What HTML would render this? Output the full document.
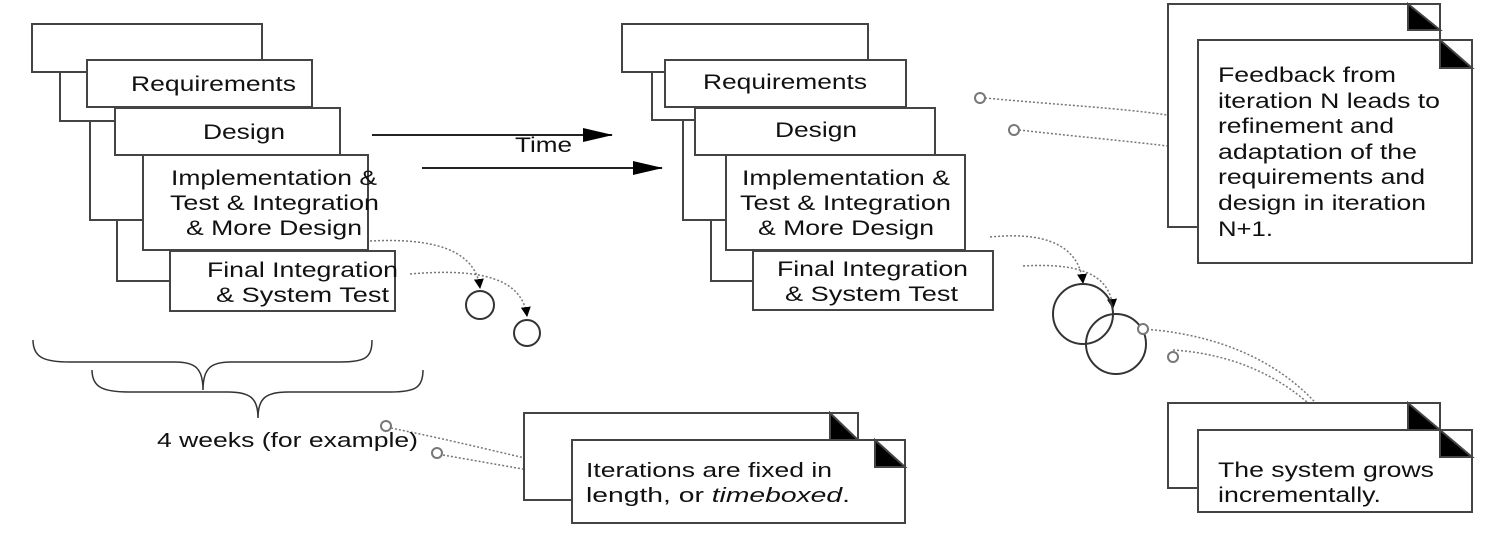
<!DOCTYPE html>
<html><head><meta charset="utf-8"><style>
html,body{margin:0;padding:0;background:#fff;}
svg{display:block;font-family:"Liberation Sans",sans-serif;}
</style></head><body>
<svg width="1494" height="536" viewBox="0 0 1494 536" xmlns="http://www.w3.org/2000/svg">
<defs>
<marker id="ah" markerWidth="10" markerHeight="10" refX="9" refY="5" orient="auto" markerUnits="userSpaceOnUse"><path d="M0,0 L10,5 L0,10 z" fill="#000"/></marker>
<marker id="big" markerWidth="30" markerHeight="14" refX="29" refY="7" orient="auto" markerUnits="userSpaceOnUse"><path d="M0,0 L30,7 L0,14 z" fill="#000"/></marker>
</defs>
<g fill="#fff" stroke="#444" stroke-width="2">
<polyline fill="none" points="60,72 60,121 115,121"/>
<polyline fill="none" points="90,121 90,220 143,220"/>
<polyline fill="none" points="117,220 117,281 170,281"/>
<rect x="32" y="24" width="230" height="48"/>
<rect x="87" y="60" width="225" height="47"/>
<rect x="115" y="108" width="225" height="47"/>
<rect x="143" y="155" width="225" height="95"/>
<rect x="170" y="251" width="225" height="60"/>
<polyline fill="none" points="652,72 652,120 695,120"/>
<polyline fill="none" points="683,120 683,220 726,220"/>
<polyline fill="none" points="711,220 711,281 753,281"/>
<rect x="622" y="24" width="246" height="48"/>
<rect x="665" y="60" width="241" height="47"/>
<rect x="695" y="108" width="240" height="47"/>
<rect x="726" y="155" width="239" height="95"/>
<rect x="753" y="251" width="240" height="59"/>
</g>
<g font-size="21" fill="#111" lengthAdjust="spacingAndGlyphs">
<text x="131" y="91" textLength="165" lengthAdjust="spacingAndGlyphs">Requirements</text>
<text x="203" y="139" textLength="82" lengthAdjust="spacingAndGlyphs">Design</text>
<text x="171" y="185" textLength="206" lengthAdjust="spacingAndGlyphs">Implementation &amp;</text>
<text x="170" y="210" textLength="209" lengthAdjust="spacingAndGlyphs">Test &amp; Integration</text>
<text x="186" y="235" textLength="176" lengthAdjust="spacingAndGlyphs">&amp; More Design</text>
<text x="207" y="277" textLength="191" lengthAdjust="spacingAndGlyphs">Final Integration</text>
<text x="216" y="302" textLength="173" lengthAdjust="spacingAndGlyphs">&amp; System Test</text>
<text x="703" y="89" textLength="164" lengthAdjust="spacingAndGlyphs">Requirements</text>
<text x="775" y="137" textLength="82" lengthAdjust="spacingAndGlyphs">Design</text>
<text x="742" y="185" textLength="208" lengthAdjust="spacingAndGlyphs">Implementation &amp;</text>
<text x="740" y="210" textLength="211" lengthAdjust="spacingAndGlyphs">Test &amp; Integration</text>
<text x="758" y="235" textLength="176" lengthAdjust="spacingAndGlyphs">&amp; More Design</text>
<text x="777" y="276" textLength="191" lengthAdjust="spacingAndGlyphs">Final Integration</text>
<text x="785" y="301" textLength="173" lengthAdjust="spacingAndGlyphs">&amp; System Test</text>
<text x="515" y="152" textLength="57" lengthAdjust="spacingAndGlyphs">Time</text>
</g>
<line x1="372" y1="135" x2="612" y2="135" stroke="#222" stroke-width="2" marker-end="url(#big)"/>
<line x1="422" y1="168" x2="662" y2="168" stroke="#222" stroke-width="2" marker-end="url(#big)"/>
<g fill="none" stroke="#777" stroke-width="1.5" stroke-dasharray="2,2">
<path d="M370,241 C430,238 475,248 480,288" marker-end="url(#ah)"/>
<path d="M410,274 C480,268 522,278 527,316" marker-end="url(#ah)"/>
<path d="M990,237 C1060,230 1080,255 1083,283" marker-end="url(#ah)"/>
<path d="M1023,266 C1090,262 1110,280 1113,308" marker-end="url(#ah)"/>
<path d="M985,98 C1060,105 1120,108 1167,115"/>
<path d="M1019,130 C1090,138 1150,143 1198,150"/>
<path d="M1143,329 C1230,335 1300,370 1340,435"/>
<path d="M1173,350 C1250,355 1300,390 1330,425"/>
<path d="M391,428 C450,440 490,450 525,458"/>
<path d="M443,455 C500,465 540,472 572,478"/>
</g>
<g fill="none" stroke="#333" stroke-width="2">
<circle cx="480" cy="305" r="14"/>
<circle cx="527" cy="333" r="13"/>
<circle cx="1083" cy="314" r="30"/>
<circle cx="1116" cy="344" r="30"/>
</g>
<g fill="#fff" stroke="#777" stroke-width="2">
<circle cx="980" cy="98" r="5"/>
<circle cx="1014" cy="130" r="5"/>
<circle cx="1143" cy="329" r="5"/>
<circle cx="1173" cy="357" r="5"/>
<circle cx="386" cy="426" r="5"/>
<circle cx="437" cy="453" r="5"/>
</g>
<g fill="none" stroke="#333" stroke-width="1.5">
<path d="M33,340 C33,358 45,362 70,362 L175,362 C195,362 203,368 203,390 C203,368 211,362 231,362 L340,362 C365,362 372,358 372,340"/>
<path d="M92,370 C92,388 104,392 130,392 L228,392 C250,392 258,398 258,418 C258,398 266,392 288,392 L390,392 C415,392 423,388 423,370"/>
</g>
<text x="157" y="447" font-size="20" fill="#111" textLength="261" lengthAdjust="spacingAndGlyphs">4 weeks (for example)</text>
<g stroke="#444" stroke-width="2">
<path d="M1168,4 L1440,4 L1440,227 L1168,227 Z" fill="#fff"/>
<path d="M1408,4 L1440,30 L1408,30 Z" fill="#000"/>
<path d="M1198,40 L1472,40 L1472,263 L1198,263 Z" fill="#fff"/>
<path d="M1440,40 L1472,68 L1440,68 Z" fill="#000"/>
<path d="M1168,403 L1440,403 L1440,488 L1168,488 Z" fill="#fff"/>
<path d="M1408,403 L1440,430 L1408,430 Z" fill="#000"/>
<path d="M1198,430 L1472,430 L1472,512 L1198,512 Z" fill="#fff"/>
<path d="M1440,430 L1472,457 L1440,457 Z" fill="#000"/>
<path d="M524,413 L858,413 L858,500 L524,500 Z" fill="#fff"/>
<path d="M830,413 L858,440 L830,440 Z" fill="#000"/>
<path d="M572,440 L905,440 L905,523 L572,523 Z" fill="#fff"/>
<path d="M875,440 L905,467 L875,467 Z" fill="#000"/>
</g>
<g font-size="21" fill="#111">
<text x="1218" y="82" textLength="178" lengthAdjust="spacingAndGlyphs">Feedback from</text>
<text x="1218" y="108" textLength="222" lengthAdjust="spacingAndGlyphs">iteration N leads to</text>
<text x="1218" y="133" textLength="176" lengthAdjust="spacingAndGlyphs">refinement and</text>
<text x="1218" y="159" textLength="199" lengthAdjust="spacingAndGlyphs">adaptation of the</text>
<text x="1218" y="184" textLength="207" lengthAdjust="spacingAndGlyphs">requirements and</text>
<text x="1218" y="210" textLength="208" lengthAdjust="spacingAndGlyphs">design in iteration</text>
<text x="1218" y="236" textLength="55" lengthAdjust="spacingAndGlyphs">N+1.</text>
<text x="1218" y="477" textLength="216" lengthAdjust="spacingAndGlyphs">The system grows</text>
<text x="1218" y="502" textLength="163" lengthAdjust="spacingAndGlyphs">incrementally.</text>
<text x="586" y="477" font-size="20" textLength="246" lengthAdjust="spacingAndGlyphs">Iterations are fixed in</text>
<text x="586" y="502" font-size="20" textLength="264" lengthAdjust="spacingAndGlyphs">length, or <tspan font-style="italic">timeboxed</tspan>.</text>
</g>
</svg>
</body></html>
